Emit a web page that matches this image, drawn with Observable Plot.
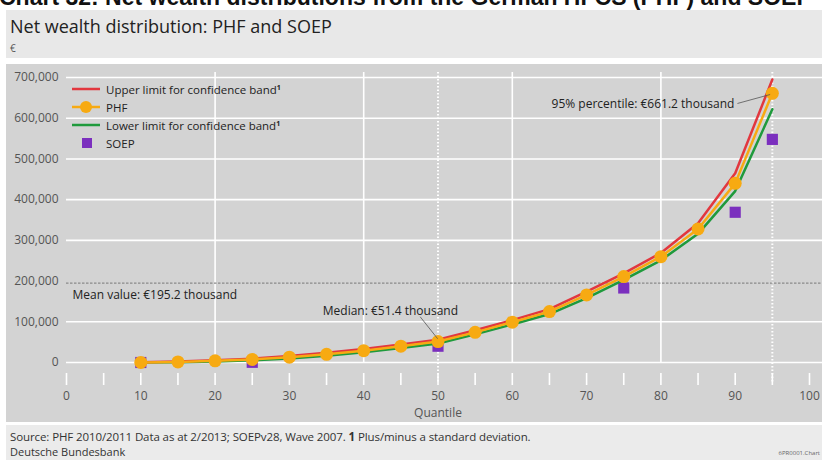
<!DOCTYPE html>
<html>
<head>
<meta charset="utf-8">
<script src="https://cdn.jsdelivr.net/npm/d3@7"></script>
<script src="https://cdn.jsdelivr.net/npm/@observablehq/plot@0.6"></script>
<style>
  body { margin: 0; background: #fff; font-family: "Open Sans", sans-serif; }
  #page { position: relative; width: 822px; height: 460px; overflow: hidden; background: #fff; }
  #headline { position: absolute; left: 0; top: 0; width: 822px; height: 10px; overflow: hidden; }
  #headline span { position: absolute; left: -1px; top: -16px; font: bold 23px "Liberation Sans", Arial, sans-serif; white-space: nowrap; color: #111; }
  #band { position: absolute; left: 6px; top: 10px; width: 816px; height: 48px; background: #e8e8e8; }
  #subtitle { position: absolute; left: 4px; top: 4px; font-size: 18px; color: #222; white-space: nowrap; }
  #unit { position: absolute; left: 4px; top: 31px; font-size: 10px; color: #555; }
  #chart { position: absolute; left: 6px; top: 64px; }
  #legend { position: absolute; left: 72px; top: 80px; font-size: 11.5px; color: #222; }
  #legend .row { display: flex; align-items: center; height: 18px; white-space: nowrap; }
  #legend svg { margin-right: 5px; }
  #legend sup { font-size: 7px; font-weight: bold; vertical-align: 4px; }
  #footer { position: absolute; left: 6px; top: 425px; width: 816px; height: 35px; background: #ebebeb; }
  #source { position: absolute; left: 4px; top: 4px; font-size: 11.5px; color: #333; white-space: nowrap; letter-spacing: -0.1px; }
  #org { position: absolute; left: 4px; top: 19px; font-size: 11px; color: #333; }
  #code { position: absolute; right: 2px; top: 24px; font-size: 6px; color: #666; }
</style>
</head>
<body>
<div id="page">
  <div id="headline"><span>Chart 32: Net wealth distributions from the German HFCS (PHF) and SOEP</span></div>
  <div id="band">
    <div id="subtitle">Net wealth distribution: PHF and SOEP</div>
    <div id="unit">€</div>
  </div>
  <div id="chart"></div>
  <div id="legend"></div>
  <div id="footer">
    <div id="source">Source: PHF 2010/2011 Data as at 2/2013; SOEPv28, Wave 2007. <b>1</b> Plus/minus a standard deviation.</div>
    <div id="org">Deutsche Bundesbank</div>
    <div id="code">6PR0001.Chart</div>
  </div>
</div>
<script>
// Quantiles of net wealth (€)
const quantiles = [10, 15, 20, 25, 30, 35, 40, 45, 50, 55, 60, 65, 70, 75, 80, 85, 90, 95];
const phf   = [100, 1500, 4000, 7500, 13000, 20000, 29000, 40000, 51400, 74000, 99000, 125000, 166000, 211000, 260000, 328000, 440000, 661200];
const upper = [400, 2500, 5500, 9500, 16000, 24000, 33000, 44500, 56000, 79000, 104000, 131000, 174000, 219000, 269000, 342000, 465000, 695000];
const lower = [0, 700, 2500, 5500, 10000, 16500, 25000, 35500, 46500, 69000, 93500, 119000, 158000, 203000, 251000, 316000, 421000, 622000];

// SOEP quantiles (€)
const soepQuantiles = [10, 25, 50, 75, 90, 95];
const soep = [0, 500, 40000, 183000, 369000, 548000];

// Mean net wealth, PHF (€)
const meanValue = 195200;

// Axis ticks
const yTicks = [0, 100000, 200000, 300000, 400000, 500000, 600000, 700000];
const xLabelTicks = [0, 10, 20, 30, 40, 50, 60, 70, 80, 90, 100];
const xMinorTicks = d3.range(0, 101, 5);
const solidGrid = [20, 40, 60, 80];
const dottedGrid = [50, 95];

const colors = { upper: "#e2373e", phf: "#f7aa12", lower: "#1f9a3c", soep: "#7b2fbe" };

const rows = quantiles.map((q, i) => ({ q, phf: phf[i], upper: upper[i], lower: lower[i] }));
const soepRows = soepQuantiles.map((q, i) => ({ q, value: soep[i] }));
const p95 = rows.filter(d => d.q === 95);
const p50 = rows.filter(d => d.q === 50);
const thousand = v => `€${(v / 1000).toFixed(1)} thousand`;

const chart = Plot.plot({
  width: 816,
  height: 358,
  marginLeft: 60,
  marginRight: 13,
  marginTop: 13,
  marginBottom: 60,
  style: { background: "#d3d3d3", fontFamily: "Open Sans", fontSize: "11.5px", overflow: "visible" },
  x: { domain: [0, 100], axis: null },
  y: { domain: [0, 700000], axis: null },
  marks: [
    // grid
    Plot.ruleY(yTicks.filter(v => v !== 200000), { stroke: "#fff", strokeWidth: 1.6, insetRight: -13 }),
    Plot.ruleX(solidGrid, { stroke: "#fff", strokeWidth: 1.6, insetTop: -5 }),
    Plot.ruleX(dottedGrid, { stroke: "#fff", strokeWidth: 2, strokeDasharray: "1.5,2", insetTop: -5, insetBottom: -21 }),
    Plot.ruleX(xMinorTicks, { stroke: "#fff", strokeWidth: 1.6, insetTop: 296, insetBottom: -23 }),
    // mean line
    Plot.ruleY([meanValue], { stroke: "#8a8a8a", strokeWidth: 1.3, strokeDasharray: "2.5,1.5", insetRight: -13 }),
    Plot.text([meanValue], { frameAnchor: "left", y: d => d, text: d => `Mean value: ${thousand(d)}`, textAnchor: "start", dx: 6, dy: 12, fill: "#222", fontSize: 12 }),
    // axes
    Plot.axisY(yTicks, { tickSize: 0, tickPadding: 8, tickFormat: d3.format(","), color: "#555", fontSize: 12 }),
    Plot.axisX(xLabelTicks, { tickSize: 0, tickPadding: 29, color: "#555", fontSize: 12, label: null }),
    Plot.text(["Quantile"], { frameAnchor: "bottom", lineAnchor: "middle", dy: 51, fill: "#555", fontSize: 12 }),
    // SOEP
    Plot.dot(soepRows, { x: "q", y: "value", symbol: "square", r: 6.3, fill: colors.soep }),
    // PHF with confidence band limits
    Plot.line(rows, { x: "q", y: "lower", stroke: colors.lower, strokeWidth: 2.5 }),
    Plot.line(rows, { x: "q", y: "upper", stroke: colors.upper, strokeWidth: 2.5 }),
    Plot.line(rows, { x: "q", y: "phf", stroke: colors.phf, strokeWidth: 2.5 }),
    Plot.dot(rows, { x: "q", y: "phf", r: 6.5, fill: colors.phf }),
    // annotations
    Plot.link(p95, { x1: d => d.q - 4.7, y1: d => d.phf - 25000, x2: d => d.q - 0.3, y2: d => d.phf - 3000, stroke: "#555", strokeWidth: 0.8 }),
    Plot.text(p95, { x: "q", y: "phf", text: d => `95% percentile: ${thousand(d.phf)}`, textAnchor: "end", dx: -38, dy: 11, fill: "#222", fontSize: 12 }),
    Plot.link(p50, { x1: d => d.q - 2.4, y1: d => d.phf + 61000, x2: d => d.q - 0.05, y2: d => d.phf + 7000, stroke: "#555", strokeWidth: 0.8 }),
    Plot.text(p50, { x: "q", y: "phf", text: d => `Median: ${thousand(d.phf)}`, textAnchor: "end", dx: 20, dy: -30, fill: "#222", fontSize: 12 })
  ]
});
document.getElementById("chart").appendChild(chart);

// Legend
const legendItems = [
  { label: "Upper limit for confidence band", note: "1", kind: "line", color: colors.upper },
  { label: "PHF", kind: "linedot", color: colors.phf },
  { label: "Lower limit for confidence band", note: "1", kind: "line", color: colors.lower },
  { label: "SOEP", kind: "square", color: colors.soep }
];
const legend = d3.select("#legend");
for (const item of legendItems) {
  const row = legend.append("div").attr("class", "row");
  const svg = row.append("svg").attr("width", 29).attr("height", 14);
  if (item.kind === "line" || item.kind === "linedot") {
    svg.append("line").attr("x1", 0).attr("x2", 28).attr("y1", 7).attr("y2", 7)
      .attr("stroke", item.color).attr("stroke-width", 2.5);
  }
  if (item.kind === "linedot") {
    svg.append("circle").attr("cx", 14).attr("cy", 7).attr("r", 6).attr("fill", item.color);
  }
  if (item.kind === "square") {
    svg.append("rect").attr("x", 10).attr("y", 2).attr("width", 10).attr("height", 10).attr("fill", item.color);
  }
  const span = row.append("span").text(item.label);
  if (item.note) span.append("sup").text(item.note);
}
</script>
</body>
</html>
